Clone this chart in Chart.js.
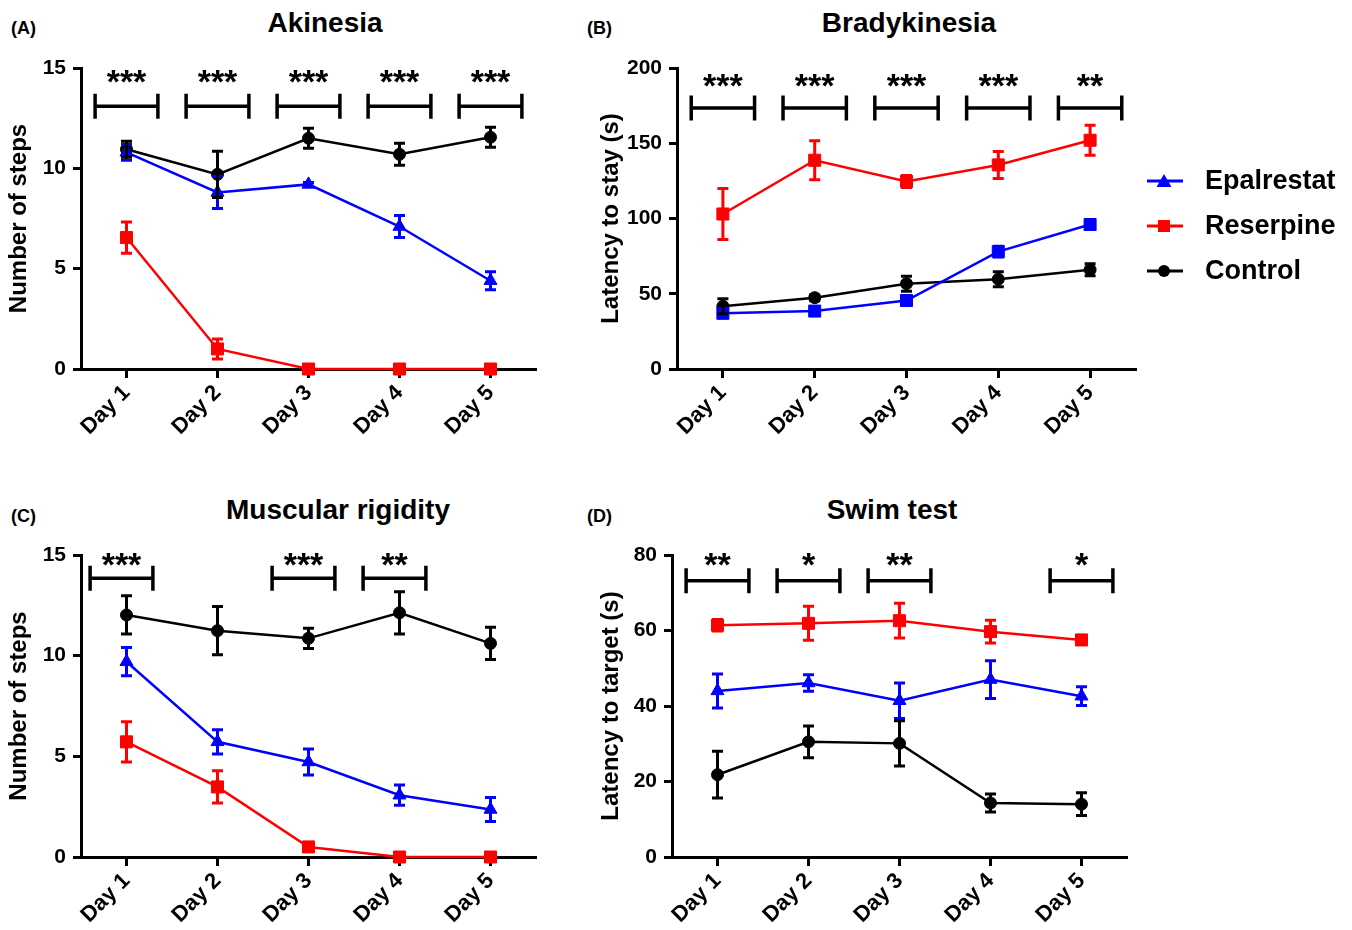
<!DOCTYPE html>
<html>
<head>
<meta charset="utf-8">
<script src="https://cdn.jsdelivr.net/npm/chart.js@4.4.1/dist/chart.umd.min.js"></script>
<style>
  body { margin: 0; background: #fff; width: 1352px; height: 930px; position: relative; overflow: hidden;
         font-family: "Liberation Sans", Arial, sans-serif; color: #000; }
  canvas { position: absolute; }
  .title { position: absolute; font-weight: bold; font-size: 28px; transform: translate(-50%, -50%); white-space: nowrap; }
  .tag { position: absolute; font-weight: bold; font-size: 18px; transform: translateY(-50%); }
  #legend { position: absolute; left: 1146px; top: 158px; }
  .item { height: 45px; display: flex; align-items: center; }
  .item span { font-weight: bold; font-size: 27px; margin-left: 21px; }
</style>
</head>
<body>
<div class="tag" style="left:11px;top:28px">(A)</div>
<div class="title" style="left:325px;top:23px">Akinesia</div>
<div class="tag" style="left:587px;top:28px">(B)</div>
<div class="title" style="left:909px;top:23px">Bradykinesia</div>
<div class="tag" style="left:11px;top:516px">(C)</div>
<div class="title" style="left:338px;top:510px">Muscular rigidity</div>
<div class="tag" style="left:587px;top:516px">(D)</div>
<div class="title" style="left:892px;top:510px">Swim test</div>

<canvas id="akinesia" width="560" height="420" style="left:0;top:40px"></canvas>
<canvas id="brady" width="560" height="420" style="left:590px;top:40px"></canvas>
<canvas id="rigidity" width="560" height="402" style="left:0;top:528px"></canvas>
<canvas id="swim" width="550" height="402" style="left:590px;top:528px"></canvas>
<div id="legend"></div>

<script>
const days = ['Day 1', 'Day 2', 'Day 3', 'Day 4', 'Day 5'];
const groups = ['Epalrestat', 'Reserpine', 'Control'];
const groupColors = ['#0000ff', '#ff0000', '#000000'];

// (A) Akinesia - number of steps
const akinesiaEpalrestat = [10.8, 8.8, 9.2, 7.1, 4.4];
const akinesiaEpalrestatErr = [0.4, 0.8, 0.1, 0.55, 0.45];
const akinesiaReserpine = [6.55, 1.0, 0, 0, 0];
const akinesiaReserpineErr = [0.78, 0.5, 0, 0, 0];
const akinesiaControl = [10.95, 9.7, 11.5, 10.7, 11.55];
const akinesiaControlErr = [0.4, 1.15, 0.5, 0.55, 0.5];
const akinesiaSig = ['***', '***', '***', '***', '***'];

// (B) Bradykinesia - latency to stay (s)
const bradyEpalrestat = [37, 38.5, 45.5, 78, 96];
const bradyEpalrestatErr = [2, 2, 3, 3.5, 2];
const bradyReserpine = [103, 138.7, 124.6, 135.6, 152];
const bradyReserpineErr = [17, 13, 4, 9, 10];
const bradyControl = [41.7, 47.4, 56.7, 59.7, 66];
const bradyControlErr = [5, 2, 5, 5, 4];
const bradySig = ['***', '***', '***', '***', '**'];

// (C) Muscular rigidity - number of steps
const rigidityEpalrestat = [9.7, 5.72, 4.72, 3.07, 2.36];
const rigidityEpalrestatErr = [0.7, 0.6, 0.65, 0.5, 0.6];
const rigidityReserpine = [5.72, 3.48, 0.5, 0, 0];
const rigidityReserpineErr = [1.0, 0.8, 0.2, 0, 0];
const rigidityControl = [12.02, 11.24, 10.86, 12.13, 10.61];
const rigidityControlErr = [0.95, 1.2, 0.5, 1.05, 0.8];
const rigiditySig = ['***', '', '***', '**', ''];

// (D) Swim test - latency to target (s)
const swimEpalrestat = [44.0, 46.1, 41.4, 47.0, 42.6];
const swimEpalrestatErr = [4.5, 2.2, 4.7, 5, 2.5];
const swimReserpine = [61.4, 61.9, 62.6, 59.7, 57.5];
const swimReserpineErr = [1.5, 4.5, 4.6, 3, 1];
const swimControl = [21.8, 30.5, 30.1, 14.3, 14.0];
const swimControlErr = [6.2, 4.2, 6, 2.4, 3];
const swimSig = ['**', '*', '**', '', '*'];

const FONT = '"Liberation Sans", Arial, sans-serif';

// error bars (mean +/- SEM) drawn from each dataset's errors array
const errorBars = {
  id: 'errorBars',
  afterDatasetsDraw(chart) {
    const ctx = chart.ctx;
    const y = chart.scales.y;
    chart.data.datasets.forEach((ds, i) => {
      const meta = chart.getDatasetMeta(i);
      ctx.save();
      ctx.strokeStyle = ds.borderColor;
      ctx.lineWidth = 3;
      meta.data.forEach((pt, j) => {
        const e = ds.errors[j];
        if (!e) return;
        const top = y.getPixelForValue(ds.data[j] + e);
        const bot = y.getPixelForValue(ds.data[j] - e);
        ctx.beginPath();
        ctx.moveTo(pt.x, top); ctx.lineTo(pt.x, bot);
        ctx.moveTo(pt.x - 5.5, top); ctx.lineTo(pt.x + 5.5, top);
        ctx.moveTo(pt.x - 5.5, bot); ctx.lineTo(pt.x + 5.5, bot);
        ctx.stroke();
      });
      ctx.restore();
    });
  }
};

// significance brackets with stars above each day
const sigBrackets = {
  id: 'sigBrackets',
  afterDraw(chart, args, opts) {
    const ctx = chart.ctx;
    const x = chart.scales.x, y = chart.scales.y;
    const half = (x.getPixelForValue(1) - x.getPixelForValue(0)) * 0.345;
    const barY = y.getPixelForValue(opts.level);
    const starY = y.getPixelForValue(opts.starLevel);
    ctx.save();
    ctx.strokeStyle = '#000';
    ctx.fillStyle = '#000';
    ctx.lineWidth = 3.5;
    ctx.font = 'bold 34px ' + FONT;
    ctx.textAlign = 'center';
    ctx.textBaseline = 'alphabetic';
    opts.marks.forEach((m, j) => {
      if (!m) return;
      const cx = x.getPixelForValue(j) + (opts.shift || 0);
      ctx.beginPath();
      ctx.moveTo(cx - half, barY); ctx.lineTo(cx + half, barY);
      ctx.moveTo(cx - half, barY - 12.5); ctx.lineTo(cx - half, barY + 12.5);
      ctx.moveTo(cx + half, barY - 12.5); ctx.lineTo(cx + half, barY + 12.5);
      ctx.stroke();
      ctx.fillText(m, cx, starY + 18);
    });
    ctx.restore();
  }
};

function series(label, color, style, radius, data, errors) {
  return {
    label, data, errors,
    borderColor: color, backgroundColor: color,
    borderWidth: 2.5,
    pointStyle: style, pointRadius: radius, pointBorderWidth: 1,
    clip: false, tension: 0
  };
}

function makeChart(id, p) {
  new Chart(document.getElementById(id), {
    type: 'line',
    data: {
      labels: days,
      datasets: [
        series(groups[0], groupColors[0], p.epalStyle, p.epalStyle === 'rect' ? 8.5 : 7.5, p.epal, p.epalErr),
        series(groups[1], groupColors[1], 'rect', 8.5, p.res, p.resErr),
        series(groups[2], groupColors[2], 'circle', 6, p.ctl, p.ctlErr)
      ]
    },
    options: {
      responsive: false,
      animation: false,
      layout: { padding: { top: p.padTop, right: p.padRight, left: 0, bottom: 0 } },
      plugins: {
        legend: { display: false },
        tooltip: { enabled: false },
        sigBrackets: { marks: p.sig, level: p.level, starLevel: p.starLevel, shift: p.shift }
      },
      scales: {
        x: {
          offset: true,
          afterFit(s) { s.height = p.xHeight; },
          border: { display: true, color: '#000', width: 3 },
          grid: { display: true, drawOnChartArea: false, drawTicks: true, tickLength: 9, tickWidth: 3, tickColor: '#000', offset: false },
          ticks: { color: '#000', font: { family: FONT, size: 22, weight: 'bold' }, minRotation: 45, maxRotation: 45, padding: 2 }
        },
        y: {
          min: 0, max: p.yMax,
          afterFit(s) { s.width = p.yWidth; },
          border: { display: true, color: '#000', width: 3 },
          grid: { display: true, drawOnChartArea: false, drawTicks: true, tickLength: 8, tickWidth: 3, tickColor: '#000' },
          ticks: { stepSize: p.yStep, color: '#000', font: { family: FONT, size: 21, weight: 'bold' }, padding: 7 },
          title: { display: true, text: p.yTitle, color: '#000', font: { family: FONT, size: 24, weight: 'bold' }, padding: { top: p.titlePad, bottom: 0 } }
        }
      }
    },
    plugins: [errorBars, sigBrackets]
  });
}

makeChart('akinesia', {
  epal: akinesiaEpalrestat, epalErr: akinesiaEpalrestatErr, epalStyle: 'triangle',
  res: akinesiaReserpine, resErr: akinesiaReserpineErr,
  ctl: akinesiaControl, ctlErr: akinesiaControlErr,
  sig: akinesiaSig, level: 13.1, starLevel: 14.65,
  yMax: 15, yStep: 5, yTitle: 'Number of steps',
  yWidth: 81, padTop: 28, padRight: 24, xHeight: 91, titlePad: 5
});

makeChart('brady', {
  epal: bradyEpalrestat, epalErr: bradyEpalrestatErr, epalStyle: 'rect',
  res: bradyReserpine, resErr: bradyReserpineErr,
  ctl: bradyControl, ctlErr: bradyControlErr,
  sig: bradySig, level: 173.5, starLevel: 193,
  yMax: 200, yStep: 50, yTitle: 'Latency to stay (s)',
  yWidth: 87, padTop: 28, padRight: 14, xHeight: 91, titlePad: 7
});

makeChart('rigidity', {
  epal: rigidityEpalrestat, epalErr: rigidityEpalrestatErr, epalStyle: 'triangle',
  res: rigidityReserpine, resErr: rigidityReserpineErr,
  ctl: rigidityControl, ctlErr: rigidityControlErr,
  sig: rigiditySig, level: 13.85, starLevel: 14.85, shift: -5,
  yMax: 15, yStep: 5, yTitle: 'Number of steps',
  yWidth: 81, padTop: 27, padRight: 24, xHeight: 73, titlePad: 5
});

makeChart('swim', {
  epal: swimEpalrestat, epalErr: swimEpalrestatErr, epalStyle: 'triangle',
  res: swimReserpine, resErr: swimReserpineErr,
  ctl: swimControl, ctlErr: swimControlErr,
  sig: swimSig, level: 73.2, starLevel: 79.1,
  yMax: 80, yStep: 20, yTitle: 'Latency to target (s)',
  yWidth: 82, padTop: 27, padRight: 13, xHeight: 73, titlePad: 7
});

// shared legend
const legendShapes = [
  '<polygon points="18,4 25.5,17 10.5,17" />',
  '<rect x="12" y="5" width="12" height="12" />',
  '<circle cx="18" cy="11" r="6" />'
];
const legend = document.getElementById('legend');
groups.forEach((g, i) => {
  const c = groupColors[i];
  legend.insertAdjacentHTML('beforeend',
    '<div class="item"><svg width="38" height="22"><line x1="1" y1="11" x2="37" y2="11" stroke="' + c +
    '" stroke-width="3"/><g fill="' + c + '">' + legendShapes[i] + '</g></svg><span>' + g + '</span></div>');
});
</script>
</body>
</html>
